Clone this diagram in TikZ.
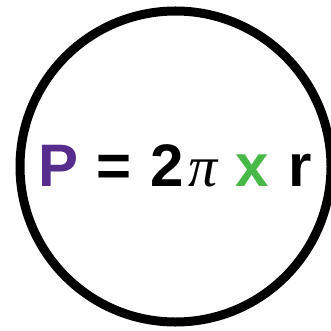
\documentclass[tikz,border=0pt]{standalone}
\usepackage{fontspec}
\setmainfont{Liberation Sans}
\newfontfamily\pifont{Liberation Serif}
\usepackage{tikz}
\usetikzlibrary{positioning}
\definecolor{cPurple}{RGB}{86,45,140}
\definecolor{cGreen}{RGB}{72,184,72}
\definecolor{cInk}{RGB}{0,0,0}
\tikzset{
  glyph/.style={inner sep=0pt,anchor=base,text=cInk,
                font=\fontsize{60}{70}\selectfont\bfseries},
  ring/.style={draw=cInk,line width=9pt}
}

\begin{document}
\begin{tikzpicture}[x=1pt,y=-1pt]
  \useasboundingbox (0,0) rectangle (331,331);
  \draw[ring] (175.5,166.5) circle[radius=155.5];
  % formula, one node per symbol
  \node[glyph,text=cPurple] (per) at (59,186) {P};
  \node[glyph] (eq) at (114,186) {=};
  \node[glyph] (two) at (167,186) {2};
  \node[glyph,font=\fontsize{58}{70}\pifont\itshape] (pi) at (203,186) {π};
  \node[glyph,text=cGreen] (times) at (252,186) {x};
  \node[glyph] (rad) at (300,186) {r};
\end{tikzpicture}
\end{document}
